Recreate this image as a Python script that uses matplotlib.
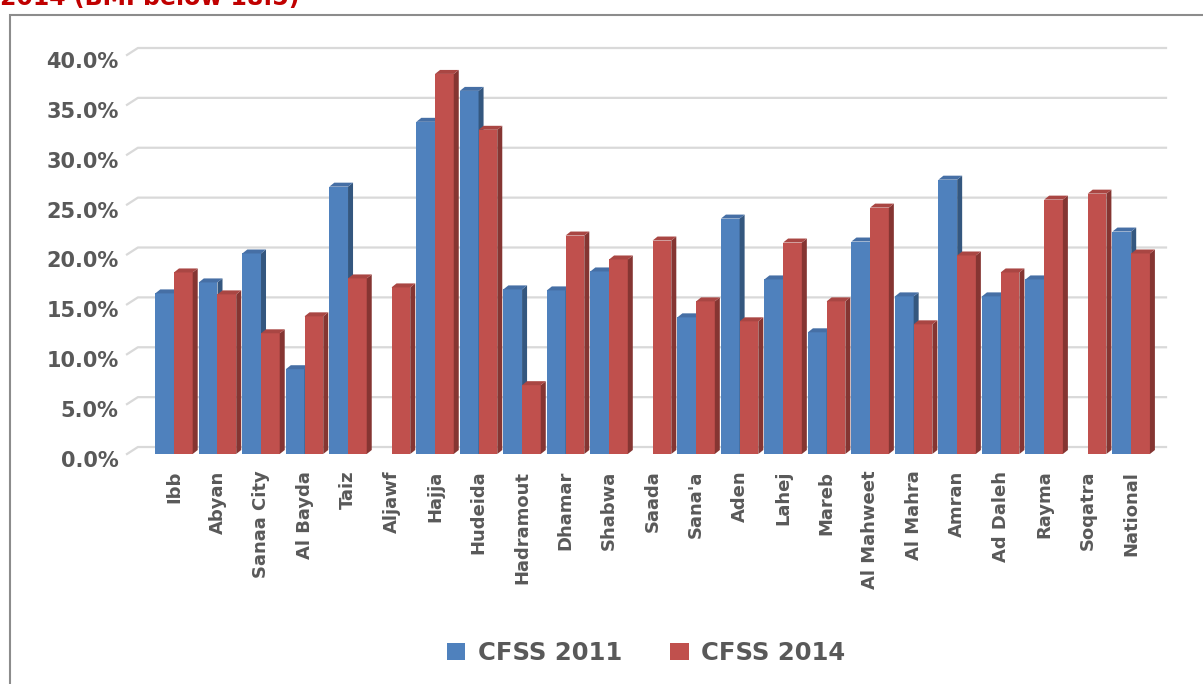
import numpy as np
import matplotlib
matplotlib.use("Agg")
import matplotlib.pyplot as plt
from matplotlib.patches import Polygon, Patch, Rectangle
from matplotlib.transforms import ScaledTranslation

# dati (% sotto BMI 18.5)
regioni = ["Ibb", "Abyan", "Sanaa City", "Al Bayda", "Taiz", "Aljawf", "Hajja",
           "Hudeida", "Hadramout", "Dhamar", "Shabwa", "Saada", "Sana'a", "Aden",
           "Lahej", "Mareb", "Al Mahweet", "Al Mahra", "Amran", "Ad Daleh",
           "Rayma", "Soqatra", "National"]
cfss2011 = [16.1, 17.2, 20.1, 8.5, 26.8, np.nan, 33.3, 36.4, 16.5, 16.4, 18.3,
            np.nan, 13.7, 23.6, 17.5, 12.2, 21.3, 15.8, 27.5, 15.8, 17.5,
            np.nan, 22.3]
cfss2014 = [18.2, 16.0, 12.1, 13.8, 17.6, 16.7, 38.1, 32.5, 6.9, 21.9, 19.5,
            21.4, 15.3, 13.3, 21.2, 15.3, 24.7, 13.0, 19.9, 18.2, 25.5,
            26.1, 20.1]
serie = ["CFSS 2011", "CFSS 2014"]
yticks = [0, 5, 10, 15, 20, 25, 30, 35, 40]

colori = {"CFSS 2011": ("#4F81BD", "#466FA5", "#34577F"),
          "CFSS 2014": ("#C0504D", "#A94643", "#853532")}
grigio = "#595959"

W, H = 1203, 684
fig = plt.figure(figsize=(W / 100, H / 100), dpi=100)
ax = fig.add_axes([127 / W, (H - 454) / H, (1166 - 127) / W, 409 / H])

xmin, xmax = -1.08, 22.8
ax.set_xlim(xmin, xmax)
ax.set_ylim(0, 41)

# griglia sul "muro di fondo" (effetto 3D)
gdx, gdy = 0.25, 0.7
for v in yticks:
    ax.plot([xmin, xmin + gdx, xmax], [v, v + gdy, v + gdy], color="#D9D9D9",
            lw=1.6, zorder=0, clip_on=False)

# barre con finto 3D
larg = 0.43
bdx, bdy = 0.115, 0.4
x = np.arange(len(regioni))
for k, (nome, valori) in enumerate(zip(serie, [cfss2011, cfss2014])):
    fronte, sopra, lato = colori[nome]
    for i, v in enumerate(valori):
        if np.isnan(v):
            continue
        x0 = x[i] - larg + k * larg
        x1 = x0 + larg
        z = 2 + k
        ax.bar(x0, v, width=larg, align="edge", color=fronte, zorder=z)
        ax.add_patch(Polygon([(x1, 0), (x1 + bdx, bdy), (x1 + bdx, v + bdy), (x1, v)],
                             closed=True, facecolor=lato, edgecolor="none", zorder=z))
        ax.add_patch(Polygon([(x0, v), (x0 + bdx, v + bdy), (x1 + bdx, v + bdy), (x1, v)],
                             closed=True, facecolor=sopra, edgecolor="none", zorder=z))

ax.set_yticks(yticks)
ax.set_yticklabels([f"{t:.1f}%" for t in yticks])
ax.set_xticks(x)
ax.set_xticklabels(regioni, rotation=90, va="top", ha="center")
ax.tick_params(axis="y", length=0, pad=6, labelsize=15, labelcolor=grigio)
ax.tick_params(axis="x", length=0, pad=12, labelsize=13, labelcolor=grigio)
spost = ScaledTranslation(0, -5 / 100, fig.dpi_scale_trans)
for lab in ax.get_yticklabels():
    lab.set_fontweight("bold")
    lab.set_transform(lab.get_transform() + spost)
for lab in ax.get_xticklabels():
    lab.set_fontweight("bold")
for s in ax.spines.values():
    s.set_visible(False)

# legenda
maniglie = [Patch(facecolor=colori[n][0], edgecolor="none", label=n) for n in serie]
leg = fig.legend(handles=maniglie, loc="center", bbox_to_anchor=(646 / W, 1 - 653 / H),
                 ncol=2, frameon=False, fontsize=17.5, handlelength=0.75,
                 handleheight=0.75, handletextpad=0.5, columnspacing=2.0)
for t in leg.get_texts():
    t.set_color(grigio)
    t.set_fontweight("bold")

# cornice grigia dell'area grafico
fig.patches.append(Rectangle((10 / W, -0.05), 1.1, 1.05 - 15 / H, transform=fig.transFigure,
                             fill=False, edgecolor="#8C8C8C", lw=1.5))

# titolo tagliato in alto
fig.text(0.0, 1 - 5 / H, "2014 (BMI below 18.5)", color="#C00000", fontsize=17,
         fontweight="bold", va="baseline", ha="left")

fig.savefig("out.png", dpi=100)
